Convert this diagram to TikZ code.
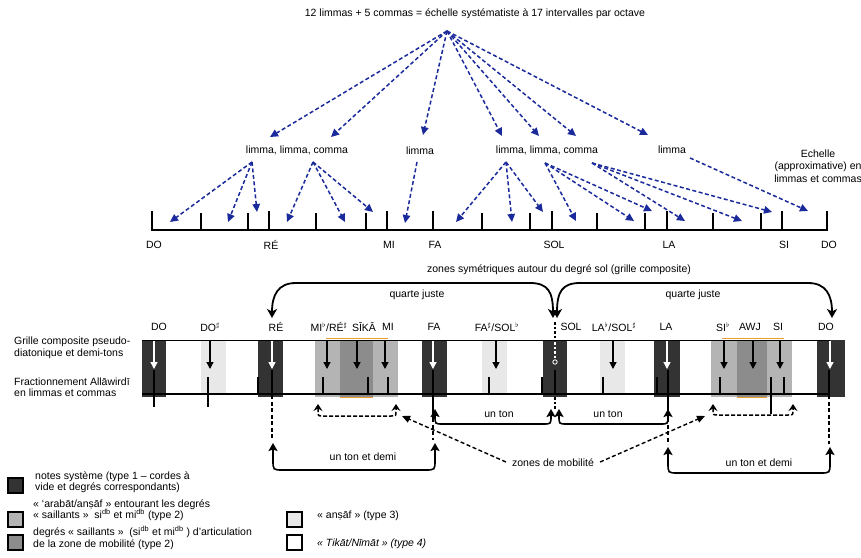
\documentclass[tikz,border=0pt]{standalone}
\usepackage{fontspec}
\setmainfont{Liberation Sans}
\usetikzlibrary{arrows.meta}
\definecolor{bleu}{HTML}{1B2A9B}
\definecolor{noir1}{HTML}{333333}
\definecolor{gris2}{HTML}{B4B4B4}
\definecolor{gris2f}{HTML}{8C8C8C}
\definecolor{gris3}{HTML}{E8E8E8}
\definecolor{orange1}{HTML}{EE9E2E}
\tikzset{
  txt/.style={inner sep=0pt, font=\fontsize{10.5}{11.5}\selectfont},
  bleuf/.style={draw=bleu, line width=1.5pt, dash pattern=on 4pt off 2.5pt, -{Triangle[length=8pt,width=7.5pt]}},
  quarte/.style={line width=1.8pt, {Stealth[length=9pt,width=10pt,inset=2.5pt]}-{Stealth[length=9pt,width=10pt,inset=2.5pt]}},
  ton/.style={line width=1.6pt, {Stealth[length=8pt,width=9pt,inset=1.5pt]}-{Stealth[length=8pt,width=9pt,inset=1.5pt]}},
  mobil/.style={line width=1.5pt, dash pattern=on 4pt off 2pt, {Stealth[length=7pt,width=9pt,inset=2.5pt]}-{Stealth[length=7pt,width=9pt,inset=2.5pt]}},
  renvoi/.style={line width=1.4pt, dash pattern=on 4pt off 2.5pt, -{Triangle[length=8pt,width=7pt]}},
  noire/.style={line width=1.3pt, -{Triangle[length=7pt,width=7pt]}},
  blanche/.style={noire, white},
  tiret/.style={line width=1.3pt, dash pattern=on 4pt off 2.5pt},
  pointille/.style={line width=1.5pt, dash pattern=on 2.5pt off 2pt},
  carre/.style={line width=1.2pt, draw=black}
}
\begin{document}
\begin{tikzpicture}[x=1pt,y=-1pt]
\useasboundingbox (0,0) rectangle (861,557);
% echelle systematiste
\node[txt] (titre) at (475,14) {12 limmas + 5 commas = échelle systématiste à 17 intervalles par octave};
\coordinate (apex) at (447,31);
\node[txt] (gA) at (297,150) {limma, limma, comma};
\node[txt] (lA) at (420,151) {limma};
\node[txt] (gB) at (547,150) {limma, limma, comma};
\node[txt] (lB) at (672,150) {limma};
\node[txt, align=center, font=\fontsize{10.5}{12.5}\selectfont] (ech) at (818,166) {Echelle\\(approximative) en\\limmas et commas};
\foreach \x/\y [count=\i] in {270/137,331/137,423/135,502/136,539/136,576/136,648/135} {
  \coordinate (h\i) at (\x,\y);
  \draw[bleuf] (apex) -- (h\i);
}
\foreach \x [count=\i] in {152,201,248,269,316,366,387,433,482,530,552,597,645,667,713,761,782,827}
  \draw[line width=1.2pt] (\x,213) coordinate (e\i) -- (\x,230);
\draw[line width=1.5pt] (152,230) -- (827,230);
\foreach \x/\n [count=\i] in {152/DO,269/RÉ,387/MI,433/FA,552/SOL,667/LA,782/SI,827/DO} {
  \draw[line width=2pt] (\x,211) -- (\x,231);
  \node[txt] (n\i) at (\x+2,245) {\n};
}
\coordinate (sA1) at (252,162); \coordinate (sA2) at (313,162); \coordinate (sL1) at (417,162);
\coordinate (sB1) at (506,162); \coordinate (sB2) at (545,163); \coordinate (sB3) at (592,163);
\coordinate (sL2) at (690,158);
\foreach \s/\x/\y in {sA1/170/222,sA1/228/222,sA1/257/212,sA2/287/222,sA2/345/222,sA2/373/212,
  sL1/405/223,sB1/456/222,sB1/512/222,sB1/543/212,sB2/576/221,sB2/634/221,sB2/652/211,
  sB3/685/221,sB3/742/221,sB3/772/212,sL2/808/211}
  \draw[bleuf] (\s) -- (\x,\y);
% grille composite
\node[txt] (zones) at (559,270) {zones symétriques autour du degré sol (grille composite)};
\node[txt] (qj1) at (417,295) {quarte juste};
\node[txt] (qj2) at (693,295) {quarte juste};
\coordinate (qRE) at (272,318); \coordinate (qSOLa) at (553,318);
\coordinate (qSOLb) at (557,318); \coordinate (qDO) at (832,318);
\draw[quarte] (qSOLa) .. controls (553,292) and (548,283) .. (530,283) -- (296,283) .. controls (278,283) and (272,295) .. (qRE);
\draw[quarte] (qSOLb) .. controls (557,292) and (562,283) .. (580,283) -- (808,283) .. controls (826,283) and (832,295) .. (qDO);
\foreach \x/\n [count=\i] in {159/DO,210/DO$^\sharp$,276/RÉ,329/{MI$^\flat$/RÉ$^\sharp$},364/SĪKĀ,388/MI,434/FA,
  497/{FA$^\sharp$/SOL$^\flat$},571/SOL,614/{LA$^\flat$/SOL$^\sharp$},666/LA,723/SI$^\flat$,750/AWJ,778/SI,826/DO}
  \node[txt] (d\i) at (\x,327) {\n};
\node[txt, anchor=west, align=left] (grille) at (14,348) {Grille composite pseudo-\\diatonique et demi-tons};
\node[txt, anchor=west, align=left] (fract) at (14,387) {Fractionnement Allāwirdī\\en limmas et commas};
\foreach \a/\b in {142/166,258/283,422/447,543/567,654/680,817/845}
  \fill[noir1] (\a,340) rectangle (\b,397);
\foreach \a/\b in {201/226,482/507,600/625}
  \fill[gris3] (\a,340) rectangle (\b,394);
\foreach \a/\b in {315/340,373/398,711/737,767/792}
  \fill[gris2] (\a,340) rectangle (\b,397);
\foreach \a/\b in {340/373,737/767}
  \fill[gris2f] (\a,340) rectangle (\b,397);
\draw[line width=1.4pt] (142,340.5) -- (830,340.5);
\draw[line width=1.4pt] (142,394) -- (830,394);
\draw[orange1, line width=1.4pt] (326,338.3) -- (388,338.3) (722,338.3) -- (784,338.3)
  (340,397.7) -- (373,397.7) (737,397.7) -- (767,397.7);
\foreach \x in {154,208,258,272,323,368,388,433,489,542,555,603,657,668,720,771,784,829}
  \draw[line width=1.3pt] (\x,377) -- (\x,394);
\foreach \x in {154,272,433,555,668,829}
  \draw[line width=1.3pt] (\x,370) -- (\x,394);
\draw[line width=2pt] (154,377) -- (154,407) (208,377) -- (208,407);
\foreach \x in {154,272,433,667,830}
  \draw[blanche] (\x,341) -- (\x,369);
\foreach \x in {210,327,357,385,496,613,724,753,780}
  \draw[noire] (\x,341) -- (\x,369);
\draw[pointille] (555,322) -- (555,340);
\draw[pointille, white] (555,342) -- (555,358);
\draw[white, line width=0.8pt] (555,362) circle (2.2pt);
\draw[pointille] (555,397) -- (555,410);
% intervalles
\draw[tiret] (272,395) -- (272,440);
\draw[line width=1.3pt] (433,394) -- (433,418);
\draw[tiret] (433,418) -- (433,440);
\draw[line width=1.3pt] (668,394) -- (668,418);
\draw[tiret] (668,418) -- (668,444);
\draw[tiret] (829,395) -- (829,444);
\draw[line width=1.3pt] (771,377) -- (771,414);
\coordinate (tFA) at (435,409); \coordinate (tSOLa) at (551,409);
\coordinate (tSOLb) at (559,409); \coordinate (tLA) at (668,409);
\draw[ton] (tFA) -- (435,416) .. controls (435,424) .. (443,424) -- (543,424) .. controls (551,424) .. (551,416) -- (tSOLa);
\draw[ton] (tSOLb) -- (559,416) .. controls (559,424) .. (567,424) -- (660,424) .. controls (668,424) .. (668,416) -- (tLA);
\node[txt] (ton1) at (499,414) {un ton};
\node[txt] (ton2) at (608,414) {un ton};
\coordinate (dRE) at (273,443); \coordinate (dFA) at (435,443);
\coordinate (dLA) at (668,447); \coordinate (dDO) at (830,447);
\draw[ton] (dRE) -- (273,460) .. controls (273,470) .. (283,470) -- (425,470) .. controls (435,470) .. (435,460) -- (dFA);
\draw[ton] (dLA) -- (668,463) .. controls (668,473) .. (678,473) -- (820,473) .. controls (830,473) .. (830,463) -- (dDO);
\node[txt] (tdm1) at (363,457) {un ton et demi};
\node[txt] (tdm2) at (759,463) {un ton et demi};
\coordinate (m1) at (318,404); \coordinate (m2) at (396,404);
\coordinate (m3) at (713,404); \coordinate (m4) at (793,404);
\draw[mobil] (m1) -- (318,411) .. controls (318,416) .. (323,416) -- (391,416) .. controls (396,416) .. (396,411) -- (m2);
\draw[mobil] (m3) -- (713,410) .. controls (713,415) .. (718,415) -- (788,415) .. controls (793,415) .. (793,410) -- (m4);
\node[txt] (mob) at (553,463) {zones de mobilité};
\draw[renvoi] (mob.west) ++(-6,-1) -- (402,416);
\draw[renvoi] (mob.east) ++(6,-1) -- (705,416);
% legende
\draw[carre, fill=noir1] (8,478) rectangle ++(15,15);
\draw[carre, fill=gris2] (8,512) rectangle ++(15,15);
\draw[carre, fill=gris2f] (8,535) rectangle ++(15,15);
\draw[carre, fill=gris3] (287,512) rectangle ++(15,15);
\draw[carre, fill=white] (287,535) rectangle ++(15,15);
\node[txt, anchor=west, align=left] (leg1) at (35,482) {notes système (type 1 – cordes à\\vide et degrés correspondants)};
\node[txt, anchor=west, align=left] (leg2) at (33,510) {« ‘arabāt/anṣāf » entourant les degrés\\« saillants »\ \ si\textsuperscript{db} et mi\textsuperscript{db} (type 2)};
\node[txt, anchor=west, align=left] (leg3) at (33,538) {degrés « saillants »\ \ (si\textsuperscript{db} et mi\textsuperscript{db} ) d’articulation\\de la zone de mobilité (type 2)};
\node[txt, anchor=west] (leg4) at (317,516) {« anṣāf » (type 3)};
\node[txt, anchor=west] (leg5) at (317,544) {\itshape « Tikāt/Nīmāt » (type 4)};
\end{tikzpicture}
\end{document}
